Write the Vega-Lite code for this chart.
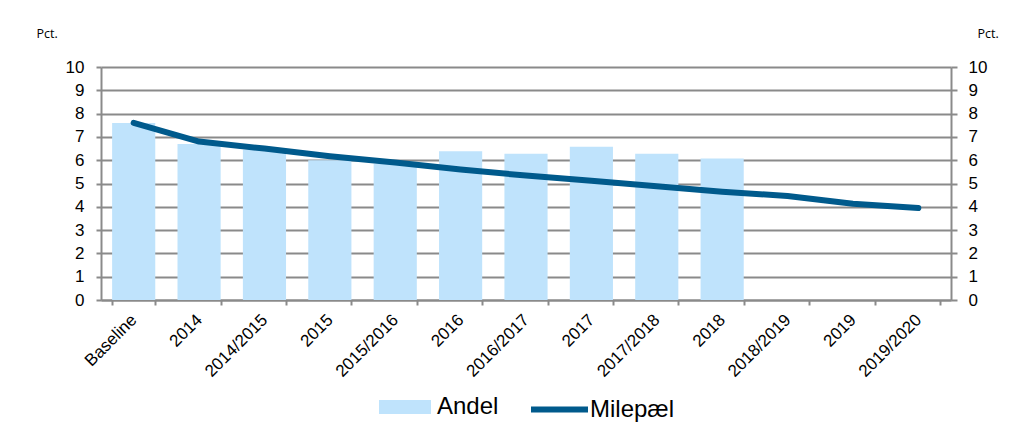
{
  "$schema": "https://vega.github.io/schema/vega-lite/v6.json",
  "width": 850,
  "height": 233,
  "autosize": {"type": "none"},
  "padding": {"left": 101, "top": 67, "right": 80, "bottom": 139},
  "background": "white",
  "config": {
    "view": {"stroke": null},
    "font": "Liberation Sans",
    "axis": {"labelFont": "Liberation Sans", "labelFontSize": 17, "labelColor": "#000", "domainColor": "#8a8a8a", "domainWidth": 2, "tickColor": "#8a8a8a", "tickWidth": 2, "gridColor": "#8a8a8a", "gridWidth": 2}
  },
  "data": {
    "values": [
      {"kat": "Baseline", "andel": 7.6, "milepael": 7.6},
      {"kat": "2014", "andel": 6.7, "milepael": 6.8},
      {"kat": "2014/2015", "andel": 6.45, "milepael": 6.5},
      {"kat": "2015", "andel": 6.0, "milepael": 6.17},
      {"kat": "2015/2016", "andel": 5.85, "milepael": 5.9},
      {"kat": "2016", "andel": 6.38, "milepael": 5.6},
      {"kat": "2016/2017", "andel": 6.28, "milepael": 5.34},
      {"kat": "2017", "andel": 6.58, "milepael": 5.12},
      {"kat": "2017/2018", "andel": 6.28, "milepael": 4.88},
      {"kat": "2018", "andel": 6.07, "milepael": 4.65},
      {"kat": "2018/2019", "andel": null, "milepael": 4.46},
      {"kat": "2019", "andel": null, "milepael": 4.13},
      {"kat": "2019/2020", "andel": null, "milepael": 3.95}
    ]
  },
  "encoding": {
    "x": {
      "field": "kat", "type": "nominal", "sort": null,
      "scale": {"paddingInner": 0.34, "paddingOuter": 0.17},
      "axis": {"title": null, "labelAngle": -45, "labelAlign": "right", "labelBaseline": "middle", "labelPadding": 12, "tickSize": 5, "tickBand": "extent", "grid": false}
    }
  },
  "layer": [
    {
      "mark": {"type": "bar", "color": "#bfe3fc"},
      "encoding": {
        "y": {
          "field": "andel", "type": "quantitative",
          "scale": {"domain": [0, 10], "nice": false},
          "axis": {"title": "Pct.", "titleAngle": 0, "titleAlign": "left", "titleBaseline": "alphabetic", "titleX": -65, "titleY": -30, "titleFont": "Open Sans", "titleFontSize": 12.5, "titleFontWeight": "normal", "titleColor": "#000", "values": [0,1,2,3,4,5,6,7,8,9,10], "tickSize": 5, "labelPadding": 12, "grid": true}
        },
        "fill": {
          "datum": "Andel", "type": "nominal",
          "scale": {"range": ["#bfe3fc"]},
          "legend": {"title": null, "orient": "none", "legendX": 278, "legendY": 314, "symbolType": "M-1,-0.27H1V0.27H-1Z", "symbolSize": 2704, "symbolStrokeWidth": 0, "symbolOpacity": 1, "labelFontSize": 24, "labelFont": "Liberation Sans", "labelOffset": 6, "padding": 0}
        }
      }
    },
    {
      "mark": {"type": "line", "color": "#005a8c", "strokeWidth": 6, "strokeCap": "round", "strokeJoin": "round"},
      "encoding": {
        "y": {
          "field": "milepael", "type": "quantitative",
          "scale": {"domain": [0, 10], "nice": false},
          "axis": {"orient": "right", "title": "Pct.", "titleAngle": 0, "titleAlign": "left", "titleBaseline": "alphabetic", "titleX": 26, "titleY": -30, "titleFont": "Open Sans", "titleFontSize": 12.5, "titleFontWeight": "normal", "titleColor": "#000", "values": [0,1,2,3,4,5,6,7,8,9,10], "tickSize": 6, "labelPadding": 11, "labelAlign": "left", "grid": false}
        },
        "stroke": {
          "datum": "Milepæl", "type": "nominal",
          "scale": {"range": ["#005a8c"]},
          "legend": {"title": null, "orient": "none", "legendX": 427, "legendY": 311, "symbolType": "M-1,0H1", "symbolSize": 3249, "symbolStrokeWidth": 6, "labelFontSize": 24, "labelFont": "Liberation Sans", "labelOffset": -1, "padding": 0}
        }
      }
    }
  ],
  "resolve": {"scale": {"y": "independent", "fill": "independent", "stroke": "independent"}}
}
